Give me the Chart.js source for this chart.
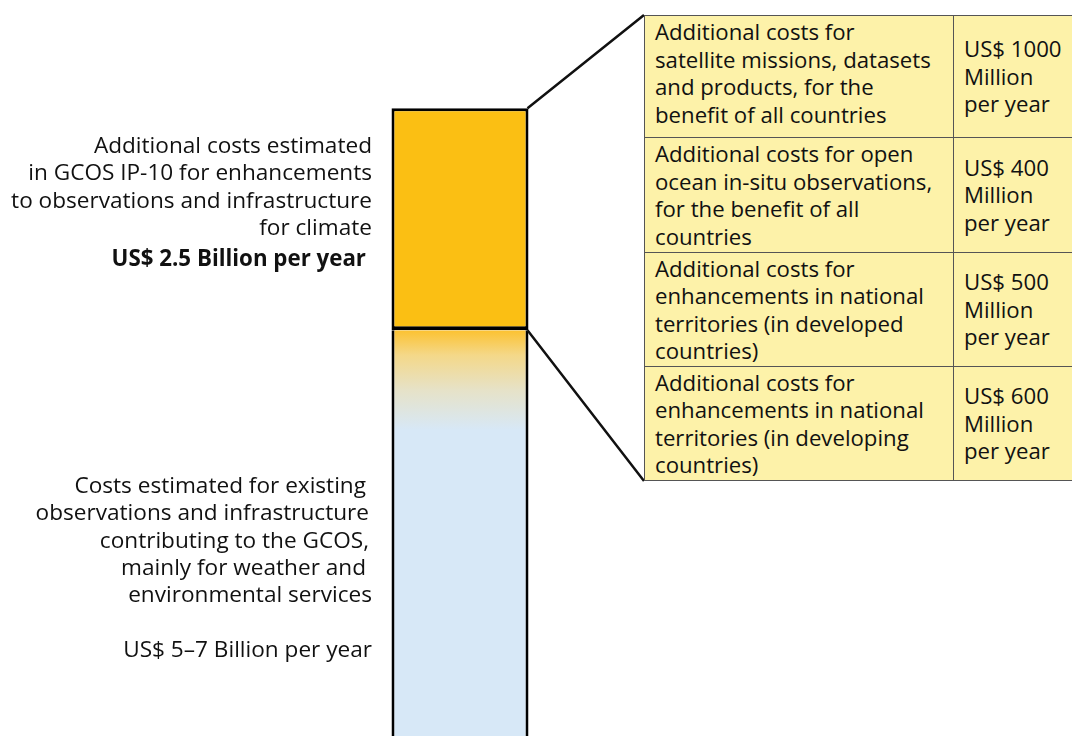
<!DOCTYPE html>
<html>
<head>
<meta charset="utf-8">
<script src="https://cdn.jsdelivr.net/npm/chart.js@4"></script>
<style>
    body { margin: 0; background: #fff; font-family: "Open Sans", sans-serif; color: #111; overflow: hidden; }
    #wrap { position: relative; width: 1072px; height: 736px; overflow: hidden; }
    canvas { position: absolute; left: 0; top: 0; }
    .note { position: absolute; text-align: right; font-size: 22.6px; line-height: 27.3px; white-space: nowrap; }
    .note b { font-size: 22.3px; display: inline-block; margin-top: 4px; padding-right: 6px; }
    .note .r { padding-right: 6px; }
    #costTable { position: absolute; left: 644px; top: 15px; border-collapse: collapse; table-layout: fixed; width: 460px;
        background: #fdf2a9; font-size: 22.2px; line-height: 27.5px; white-space: nowrap; }
    #costTable td { border: 1.5px solid #555; padding: 0 0 0 10px; vertical-align: middle; overflow: hidden; }
    #costTable td.desc { width: 298px; }
    #costTable td.amount { width: 142px; }
    #costTable tr:first-child td.desc { vertical-align: top; padding-top: 2px; }
</style>
</head>
<body>
<div id="wrap">
    <canvas id="costChart" width="1072" height="736"></canvas>
    <div class="note" id="noteTop" style="right: 700px; top: 131px;"></div>
    <div class="note" id="noteBottom" style="right: 700px; top: 471px;"></div>
    <table id="costTable"></table>
</div>
<script>
    // bar values, billion US$ per year
    const categories = ["GCOS"];
    const existingCost = [6];      // 5-7 billion, middle of the range
    const additionalCost = [2.5];

    // breakdown of the additional costs, million US$ per year
    const tableItems = [
        "Additional costs for<br>satellite missions, datasets<br>and products, for the<br>benefit of all countries",
        "Additional costs for open<br>ocean in-situ observations,<br>for the benefit of all<br>countries",
        "Additional costs for<br>enhancements in national<br>territories (in developed<br>countries)",
        "Additional costs for<br>enhancements in national<br>territories (in developing<br>countries)"
    ];
    const tableAmounts = [1000, 400, 500, 600];
    const rowHeights = [122, 115, 114, 114];

    document.getElementById('noteTop').innerHTML =
        "Additional costs estimated<br>in GCOS IP-10 for enhancements<br>to observations and infrastructure<br>for climate<br><b>US$ " + additionalCost[0] + " Billion per year</b>";
    document.getElementById('noteBottom').innerHTML =
        "<span class='r'>Costs estimated for existing</span><br><span class='r' style='padding-right:3px'>observations and infrastructure</span><br>" +
        "<span class='r' style='padding-right:3px'>contributing to the GCOS,</span><br><span class='r'>mainly for weather and</span><br>environmental services<br><br>US$ 5–7 Billion per year";

    // build the breakdown table
    const table = document.getElementById('costTable');
    tableItems.forEach((item, i) => {
        const row = table.insertRow();
        row.style.height = rowHeights[i] + 'px';
        const desc = row.insertCell();
        desc.className = 'desc';
        desc.innerHTML = item;
        const amount = row.insertCell();
        amount.className = 'amount';
        amount.innerHTML = "US$ " + tableAmounts[i] + "<br>Million<br>per year";
    });

    // lines from the orange block to the table corners
    const connectors = {
        id: 'connectors',
        afterDatasetsDraw(chart) {
            const bar = chart.getDatasetMeta(1).data[0];
            const right = bar.x + bar.width / 2 - 1;
            const box = table.getBoundingClientRect();
            const ctx = chart.ctx;
            ctx.save();
            ctx.strokeStyle = '#111';
            ctx.lineWidth = 2.5;
            ctx.beginPath();
            ctx.moveTo(right, bar.y);
            ctx.lineTo(box.left, box.top);
            ctx.moveTo(right, bar.base);
            ctx.lineTo(box.left, box.bottom);
            ctx.stroke();
            ctx.restore();
        }
    };

    const ctxCost = document.getElementById('costChart').getContext('2d');
    const costChart = new Chart(ctxCost, {
        type: 'bar',
        data: {
            labels: categories,
            datasets: [
                {
                    label: 'Existing',
                    data: existingCost,
                    backgroundColor: (c) => {
                        const chart = c.chart;
                        if (!chart.chartArea) return '#d7e8f7';
                        const top = chart.scales.y.getPixelForValue(existingCost[0]);
                        const g = chart.ctx.createLinearGradient(0, top, 0, top + 100);
                        g.addColorStop(0, '#fcc231');
                        g.addColorStop(0.25, '#f4d889');
                        g.addColorStop(0.6, '#e6e2c8');
                        g.addColorStop(1, '#d7e8f7');
                        return g;
                    },
                    borderColor: '#000',
                    borderWidth: { left: 3, right: 3, top: 0, bottom: 0 },
                    borderSkipped: false
                },
                {
                    label: 'Additional',
                    data: additionalCost,
                    backgroundColor: '#fbbf13',
                    borderColor: '#000',
                    borderWidth: { left: 3, right: 3, top: 3, bottom: 4 },
                    borderSkipped: false
                }
            ]
        },
        options: {
            responsive: false,
            animation: false,
            layout: { padding: { left: 0, right: 152, top: 0, bottom: 0 } },
            datasets: { bar: { barPercentage: 137 / 920, categoryPercentage: 1 } },
            scales: {
                x: { stacked: true, display: false },
                y: { stacked: true, display: false, min: 1.43, max: 9.72 }
            },
            plugins: {
                legend: { display: false },
                tooltip: { enabled: false }
            }
        },
        plugins: [connectors]
    });
</script>
</body>
</html>
